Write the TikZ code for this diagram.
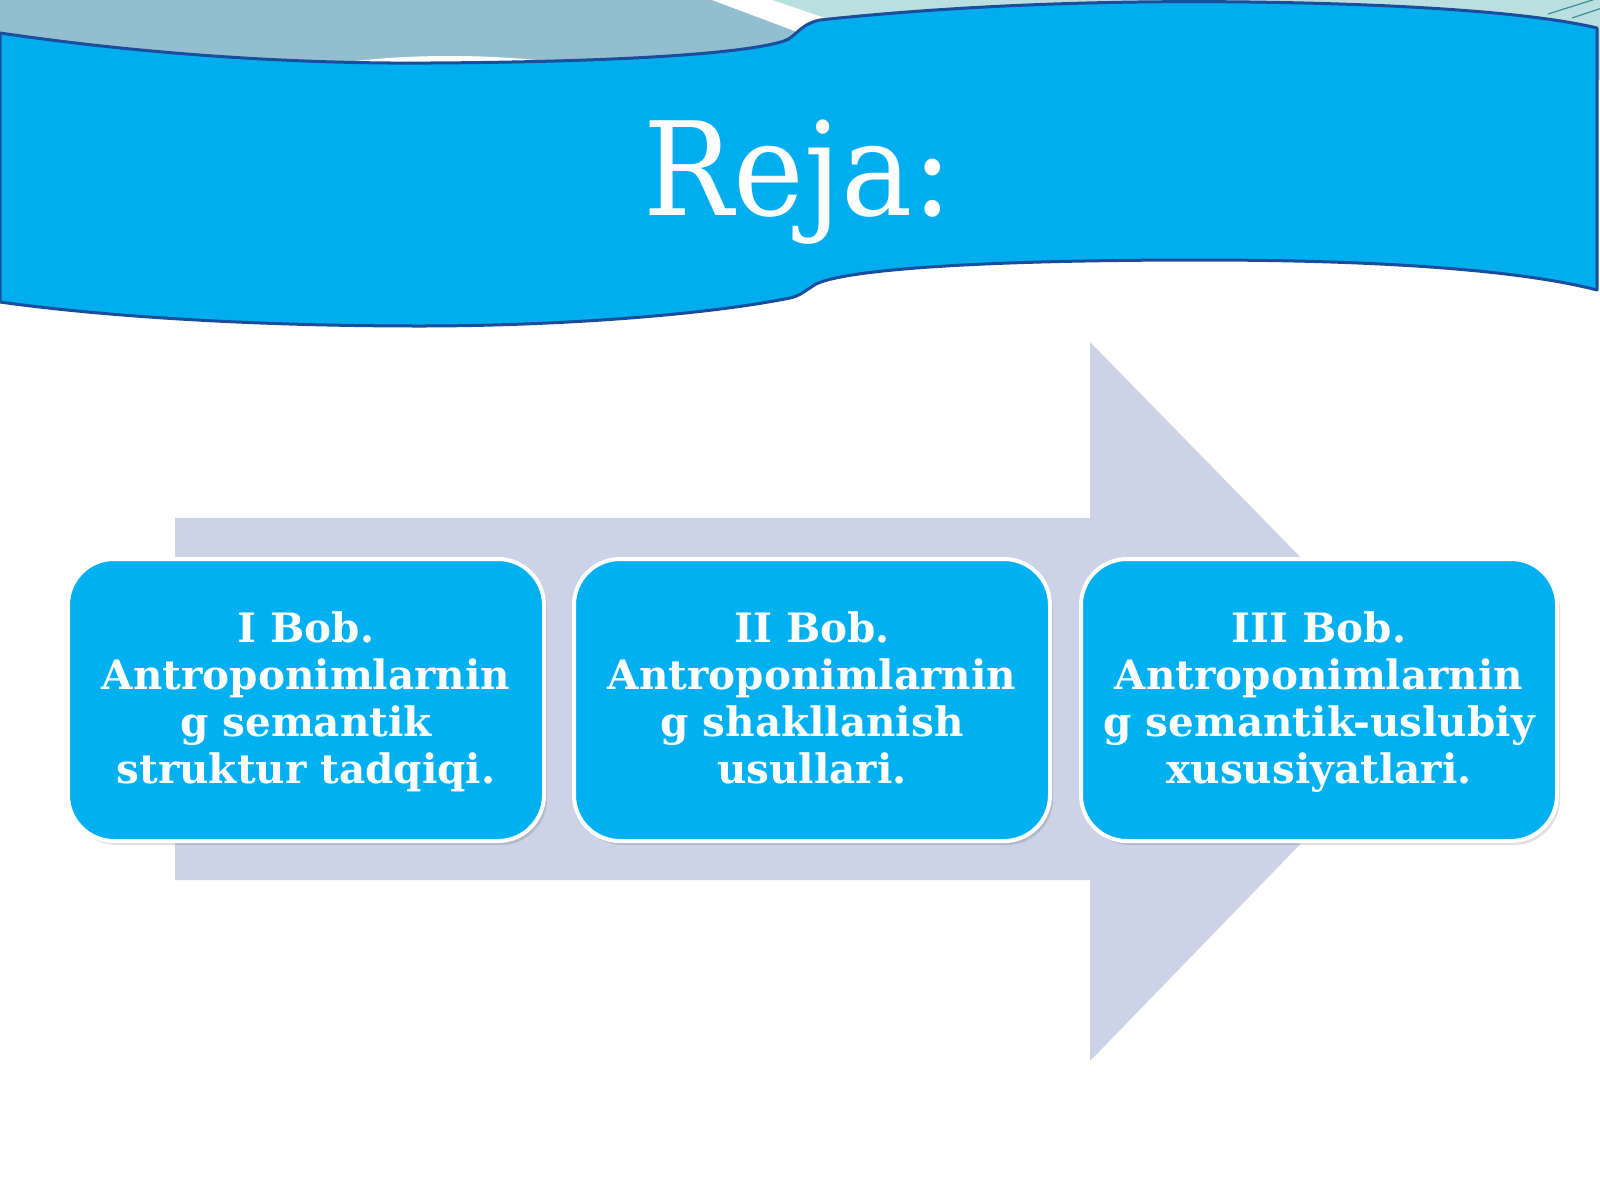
\documentclass[tikz,border=0pt]{standalone}
\usepackage{fontspec}
\setmainfont{DejaVu Serif}
\newfontfamily\titlefont[FakeStretch=0.92]{DejaVu Serif}
\usetikzlibrary{shadows}
\definecolor{bannerblue}{HTML}{00AEEF}
\definecolor{banneredge}{HTML}{1A4D9B}
\definecolor{boxblue}{HTML}{00B0F0}
\definecolor{arrowgrey}{HTML}{CDD3E7}
\definecolor{topgrey}{HTML}{92BFD0}
\definecolor{topcyan}{HTML}{B9DFE0}
\definecolor{tealline}{HTML}{3C8C9A}
\newcommand\bxstrut{\rule[-11pt]{0pt}{47pt}}
\tikzset{
  chapbox/.style={draw=white, line width=4pt, fill=boxblue, rounded corners=46pt,
    minimum width=476pt, minimum height=282pt, inner sep=0pt, align=center,
    text=white, font=\fontsize{40.5}{47}\selectfont\bfseries,
    drop shadow={shadow xshift=3pt, shadow yshift=-4pt, opacity=0.12, fill=black}},
  titletext/.style={text=white, inner sep=0pt, font=\titlefont\fontsize{130}{150}\selectfont},
  bannershape/.style={fill=bannerblue, draw=banneredge, line width=3pt, line join=round}
}
\begin{document}
\begin{tikzpicture}[x=1pt,y=-1pt]
\useasboundingbox (0,0) rectangle (1600,1200);
\fill[white] (0,0) rectangle (1600,1200);
% top decoration behind banner
\fill[topcyan] (0,0) rectangle (1600,80);
\fill[topgrey] (0,0) -- (712,0) -- (800,33) -- (800,80) -- (0,80) -- cycle;
\fill[white] (712,0) -- (772,0) -- (828,19) -- (800,33) -- cycle;
\fill[white] (450,84) ellipse [x radius=165, y radius=28];
\draw[tealline, line width=1.2pt] (1548,14) -- (1602,-3);
\draw[tealline, line width=1.2pt] (1572,18) -- (1602,8);
% banner
\path[bannershape] (0,33) .. controls (150,55) and (300,64) .. (430,63)
  .. controls (600,62) and (740,55) .. (784,41)
  .. controls (796,37) and (800,24) .. (820,20)
  .. controls (950,6) and (1100,0) .. (1250,2)
  .. controls (1400,4) and (1530,12) .. (1597,28)
  -- (1597,290)
  .. controls (1520,270) and (1380,260) .. (1200,260)
  .. controls (1000,260) and (850,268) .. (816,284)
  .. controls (806,290) and (800,296) .. (790,298)
  .. controls (700,316) and (550,326) .. (420,326)
  .. controls (250,326) and (100,316) .. (0,302) -- cycle;
\node[titletext, anchor=base] (title) at (798,215) {Reja:};
% big arrow
\fill[arrowgrey] (175,518) -- (1090,518) -- (1090,342) -- (1440,700)
  -- (1090,1061) -- (1090,880) -- (175,880) -- cycle;
% chapter boxes
\node[chapbox] (b1) at (306,700) {\bxstrut I Bob.\\\bxstrut Antroponimlarnin\\\bxstrut g semantik\\\bxstrut struktur tadqiqi.};
\node[chapbox] (b2) at (812,700) {\bxstrut II Bob.\\\bxstrut Antroponimlarnin\\\bxstrut g shakllanish\\\bxstrut usullari.};
\node[chapbox] (b3) at (1319,700) {\bxstrut III Bob.\\\bxstrut Antroponimlarnin\\\bxstrut g semantik-uslubiy\\\bxstrut xususiyatlari.};
\end{tikzpicture}
\end{document}
